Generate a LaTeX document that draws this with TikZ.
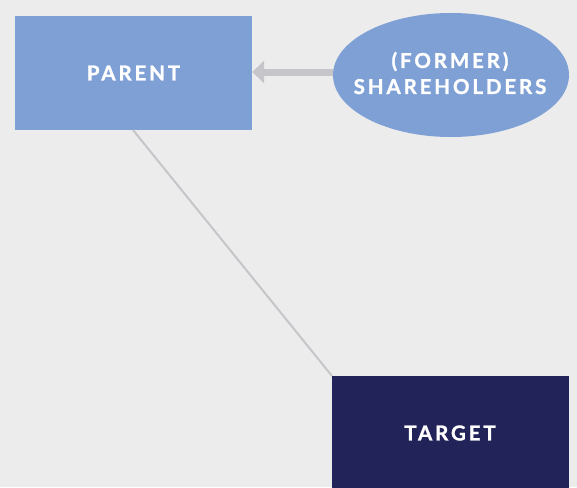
\documentclass[tikz,border=0pt]{standalone}
\usepackage{fontspec}
\setmainfont{Lato}[LetterSpace=14,BoldFeatures={FakeBold=1.2}]
\usetikzlibrary{arrows.meta,shapes.geometric}
\definecolor{bg}{HTML}{ECECEC}
\definecolor{lightblue}{HTML}{7FA0D5}
\definecolor{navy}{HTML}{222459}
\definecolor{conn}{HTML}{C6C6CA}
\begin{document}
\begin{tikzpicture}[x=1pt,y=-1pt,
  lbl/.style={text=white,font=\fontsize{20.5}{26}\selectfont\bfseries,align=center,inner sep=0pt},
  box/.style={lbl,minimum width=237pt,minimum height=114pt}]
\fill[bg] (0,0) rectangle (577,487);
\useasboundingbox (0,0) rectangle (577,487);
\node[box,fill=lightblue] (parent) at (133.5,73) {PARENT};
\node[ellipse,fill=lightblue,inner sep=0pt,minimum width=236pt,minimum height=124pt] (share) at (451,75) {};
\node[lbl] (slabel) at (450,73) {(FORMER)\\SHAREHOLDERS};
\begin{scope}
\clip (0,0) rectangle (577,487);
\node[box,fill=navy,minimum height=124pt,anchor=north west] (target) at (332,376) {};
\end{scope}
\node[lbl] (tlabel) at (450,433) {TARGET};
\coordinate (pbot) at (133,130);
\draw[conn,line width=2pt] (pbot) -- (target.north west);
\draw[conn,line width=7pt,-{Triangle[width=22pt,length=12pt]}] (share.west |- 0,72) -- (parent.east |- 0,72);
\end{tikzpicture}
\end{document}
